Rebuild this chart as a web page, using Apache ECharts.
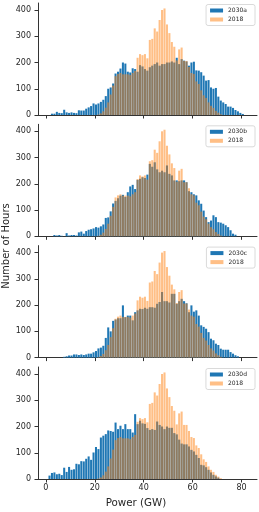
<!DOCTYPE html>
<html>
<head>
<meta charset="utf-8">
<script src="https://cdn.jsdelivr.net/npm/echarts@6/dist/echarts.min.js"></script>
<style>
html,body{margin:0;padding:0;background:#fff;}
#chart{width:259px;height:512px;}
</style>
</head>
<body>
<div id="chart"></div>
<script>
// Bin centres (GW), 1 GW wide bins
const binCenters = [0.5,1.5,2.5,3.5,4.5,5.5,6.5,7.5,8.5,9.5,
  10.5,11.5,12.5,13.5,14.5,15.5,16.5,17.5,18.5,19.5,
  20.5,21.5,22.5,23.5,24.5,25.5,26.5,27.5,28.5,29.5,
  30.5,31.5,32.5,33.5,34.5,35.5,36.5,37.5,38.5,39.5,
  40.5,41.5,42.5,43.5,44.5,45.5,46.5,47.5,48.5,49.5,
  50.5,51.5,52.5,53.5,54.5,55.5,56.5,57.5,58.5,59.5,
  60.5,61.5,62.5,63.5,64.5,65.5,66.5,67.5,68.5,69.5,
  70.5,71.5,72.5,73.5,74.5,75.5,76.5,77.5,78.5,79.5,
  80.5];

const hours2018 = [0,0,0,0,0,0,0,0,0,0,
  0,0,0,0,0,0,0,0,0,0,
  0,2,6,14,28,48,78,112,148,156,
  160,155,155,155,152,160,168,218,232,228,
  232,216,286,290,330,318,362,400,406,345,
  312,278,260,208,250,257,206,206,183,160,
  156,128,118,94,75,65,48,35,27,16,
  9,3,0,0,0,0,0,0,0,0,
  0];

const hours2030a = [0,0,5,5,12,8,7,20,10,8,
  10,8,7,18,17,17,24,29,34,44,
  40,44,50,58,72,100,105,120,158,165,
  177,200,196,165,162,178,175,165,190,185,
  175,169,182,188,194,200,188,194,194,200,
  200,204,200,218,194,213,207,204,188,200,
  203,170,169,163,150,131,133,105,100,103,
  70,55,48,42,32,32,27,19,14,8,
  4];

const hours2030b = [0,0,0,5,3,5,2,0,12,3,
  5,5,3,15,18,10,20,25,27,30,
  35,33,38,45,70,72,95,125,135,145,
  155,158,150,168,190,196,180,215,219,225,
  222,235,276,265,282,255,244,250,244,270,
  238,232,213,213,210,213,213,206,172,168,
  160,156,137,124,98,73,54,60,80,73,
  54,52,48,42,35,23,10,6,0,0,
  0];

const hours2030c = [0,0,0,0,0,0,0,3,5,8,
  8,12,12,10,12,10,12,15,15,20,
  25,35,38,45,75,115,100,140,145,150,
  150,199,154,160,160,142,173,180,186,185,
  190,186,192,192,190,205,212,250,215,215,
  210,243,243,205,215,224,215,207,173,199,
  175,180,160,123,117,110,97,72,66,53,
  48,34,30,30,30,21,15,9,5,0,
  0];

const hours2030d = [0,13,23,25,18,20,15,43,27,46,
  35,37,58,56,68,67,77,86,73,101,
  122,114,158,165,171,185,183,180,215,190,
  203,190,209,190,190,177,247,209,222,212,
  210,194,187,190,187,219,206,200,190,200,
  195,195,175,170,150,135,132,132,124,111,
  105,92,80,54,52,45,35,25,16,10,
  5,0,0,0,0,0,0,0,0,0,
  0];

const scenarioNames = ['2030a','2030b','2030c','2030d'];
const scenarioData = [hours2030a, hours2030b, hours2030c, hours2030d];
const xTicks = [0,20,40,60,80];
const yTicks = [0,100,200,300,400];
const xLabel = 'Power (GW)';
const yLabel = 'Number of Hours';

const FONT = 'DejaVu Sans';
const TXT = '#262626';
const LINE = '#333333';
const BLUE = '#1f77b4';
const ORANGE = 'rgba(255,127,14,0.5)';

const panelTop = [3, 124.3, 245.6, 367];
const panelH = 112;

const grids = [], xAxes = [], yAxes = [], series = [], legends = [];
for (let i = 0; i < 4; i++) {
  grids.push({left: 38, right: 2, top: panelTop[i], height: panelH, containLabel: false});
  xAxes.push({
    type: 'value', gridIndex: i, min: -3.2, max: 86.3,
    axisLine: {show: true, onZero: false, lineStyle: {color: LINE, width: 1}},
    axisTick: {show: true, length: 3.5, customValues: xTicks, lineStyle: {color: LINE, width: 1}},
    axisLabel: {show: i === 3, customValues: xTicks, fontSize: 8, color: TXT, fontFamily: FONT, margin: 5},
    splitLine: {show: false}
  });
  yAxes.push({
    type: 'value', gridIndex: i, min: 0, max: 426.7,
    axisLine: {show: true, onZero: false, lineStyle: {color: LINE, width: 1}},
    axisTick: {show: true, length: 3.5, customValues: yTicks, lineStyle: {color: LINE, width: 1}},
    axisLabel: {show: true, customValues: yTicks, fontSize: 8, color: TXT, fontFamily: FONT, margin: 7},
    splitLine: {show: false}
  });
  series.push({
    name: scenarioNames[i], type: 'bar', xAxisIndex: i, yAxisIndex: i,
    data: binCenters.map((c, j) => [c, scenarioData[i][j]]),
    barWidth: 2.05, barGap: '-100%',
    itemStyle: {color: BLUE}, silent: true
  });
  series.push({
    name: '2018', type: 'bar', xAxisIndex: i, yAxisIndex: i,
    data: binCenters.map((c, j) => [c, hours2018[j]]),
    barWidth: 2.05, barGap: '-100%',
    itemStyle: {color: ORANGE}, silent: true
  });
  legends.push({
    data: [scenarioNames[i], '2018'],
    orient: 'vertical', right: 4, top: panelTop[i] + 1.5,
    icon: 'rect', itemWidth: 13, itemHeight: 4, itemGap: 3,
    padding: [3, 8, 3, 4],
    backgroundColor: '#ffffff', borderColor: '#d0d0d0', borderWidth: 0.8, borderRadius: 2,
    textStyle: {fontSize: 6, color: TXT, fontFamily: FONT, padding: [0,0,0,0]},
    selectedMode: false
  });
}

const chart = echarts.init(document.getElementById('chart'), null, {renderer: 'canvas'});
chart.setOption({
  animation: false,
  backgroundColor: '#ffffff',
  grid: grids, xAxis: xAxes, yAxis: yAxes, series: series, legend: legends,
  graphic: [
    {type: 'text', x: 6.5, y: 246, rotation: Math.PI / 2,
     style: {text: yLabel, fontSize: 10, fontFamily: FONT, fill: TXT, textAlign: 'center', textVerticalAlign: 'middle'}},
    {type: 'text', x: 136, y: 503,
     style: {text: xLabel, fontSize: 10.3, fontFamily: FONT, fill: TXT, textAlign: 'center', textVerticalAlign: 'middle'}}
  ]
});
</script>
</body>
</html>
